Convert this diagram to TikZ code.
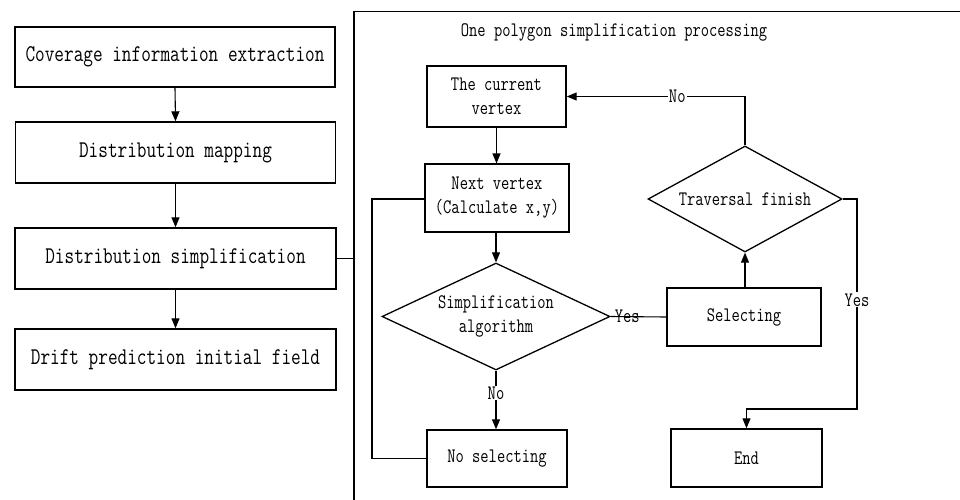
\documentclass[tikz,border=0pt]{standalone}
\usepackage{fontspec}
\setmainfont[FakeStretch=0.78]{Latin Modern Mono}
\usetikzlibrary{shapes.geometric,arrows.meta}
\tikzset{
  bigfont/.style={font=\fontsize{24}{26}\selectfont},
  smallfont/.style={font=\fontsize{20.6}{24}\selectfont},
  box/.style={draw, line width=1.4pt, rectangle, minimum width=#1, minimum height=60pt, inner sep=0pt, align=center, bigfont},
  box/.default=320pt,
  rbox/.style={box=#1, smallfont},
  dia/.style={draw, line width=1.3pt, diamond, aspect=2, inner sep=0pt, align=center, smallfont},
  conn/.style={line width=1.1pt},
  arr/.style={conn, -{Triangle[length=10pt,width=8pt]}},
  lbl/.style={fill=white, inner sep=1pt, smallfont}
}
\begin{document}
\begin{tikzpicture}[x=1pt,y=-1pt]
\useasboundingbox (0,0) rectangle (960,500);
\fill[white] (0,0) rectangle (960,500);
% left column
\node[box=320pt] (b1) at (175,57) {Coverage information extraction};
\node[box=320pt, minimum height=61pt] (b2) at (175.5,152.5) {Distribution mapping};
\node[box=321pt, minimum height=61pt] (b3) at (175.5,258.5) {Distribution simplification};
\node[box=321pt, minimum height=61pt] (b4) at (175.5,359.5) {Drift prediction initial field};
\draw[arr] (b1.south) -- (b2.north);
\draw[arr] (b2.south) -- (b3.north);
\draw[arr] (b3.south) -- (b4.north);
% big frame (clipped at right and bottom)
\coordinate (fl) at (354,258.5);
\draw[line width=1.1pt] (354,500) -- (354,11.5) -- (960,11.5);
\draw[conn] (b3.east) -- (fl);
\node[smallfont] (title) at (614,32) {One polygon simplification processing};
% right flow
\node[rbox=139pt, minimum height=61pt] (cur) at (496.5,96.5) {The current\\vertex};
\node[rbox=144pt, minimum height=68pt, line width=1.1pt] (nxt) at (497,198) {Next vertex\\(Calculate x,y)};
\node[dia, minimum width=228pt, minimum height=107pt] (simp) at (496,316.5) {Simplification\\algorithm};
\node[rbox=140pt, minimum height=57pt] (nosel) at (497,458.5) {No selecting};
\node[rbox=154pt, minimum height=58pt] (sel) at (744,317) {Selecting};
\node[dia, minimum width=194pt, minimum height=106pt] (trav) at (745,199) {Traversal finish};
\node[rbox=151pt, minimum height=58pt] (end) at (746.5,458) {End};
\coordinate (c1) at (372,458.5);
\coordinate (c2) at (372,199);
\coordinate (c3) at (745,96.5);
\coordinate (c4) at (857,199);
\coordinate (c5) at (857,409);
\coordinate (c6) at (746.5,409);
\draw[arr] (cur.south) -- (cur.south |- nxt.north);
\draw[arr] (nxt.south -| simp.north) -- (simp.north);
\draw[arr] (simp.south) -- node[lbl, pos=0.38] {No} (nosel.north -| simp.south);
\draw[conn] (nosel.west) -- (c1) -- (c2) -- (nxt.west |- c2);
\draw[conn] (simp.east) -- node[lbl, pos=0.3, fill=none] {Yes} (sel.west);
\draw[arr] (sel.north -| trav.south) -- (trav.south);
\draw[arr] (trav.north) -- (c3) -- node[lbl, pos=0.38] {No} (cur.east);
\draw[arr] (trav.east) -- (c4) -- node[lbl, pos=0.48] {Yes} (c5) -- (c6) -- (end.north);
\end{tikzpicture}
\end{document}
